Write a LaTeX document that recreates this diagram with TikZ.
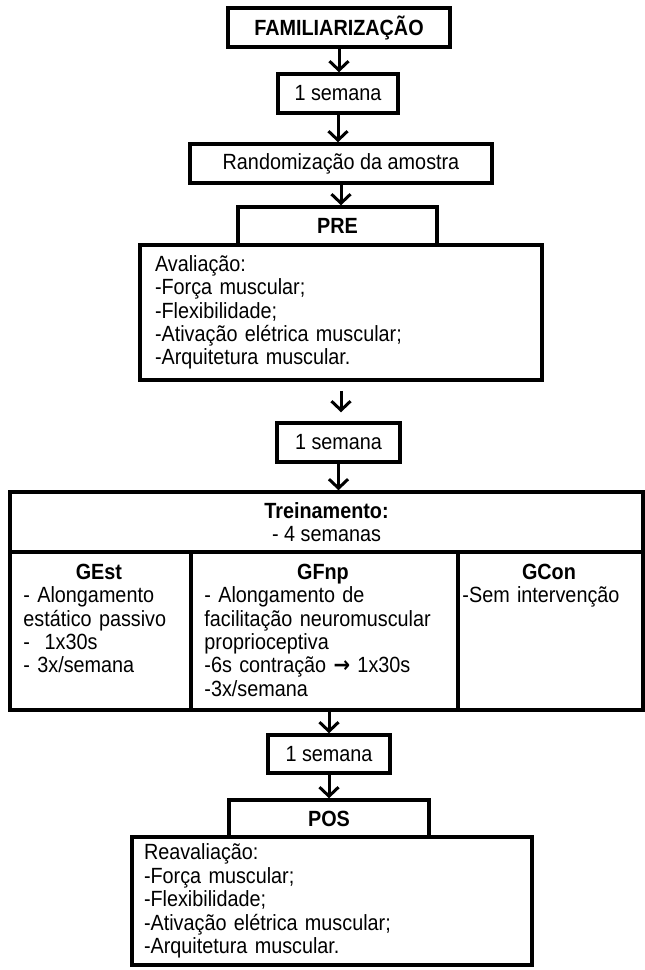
\documentclass[tikz,border=0pt]{standalone}
\usepackage{fontspec}
\setmainfont{Liberation Sans}[FakeStretch=0.9]
\newfontfamily\arrowfont{DejaVu Sans}[FakeStretch=0.9]
\usetikzlibrary{arrows.meta}
\begin{document}
\begin{tikzpicture}[x=1pt,y=-1pt,
  every node/.style={font=\fontsize{22}{23.4}\selectfont},
  bold/.style={font=\fontsize{22}{23.4}\selectfont\bfseries},
  box/.style={draw, line width=3.5pt, inner sep=0pt},
  txt/.style={inner sep=0pt, align=left, anchor=north west},
  flow/.style={line width=3pt, -{Straight Barb[length=9pt,width=19pt]}}]
\useasboundingbox (0,0) rectangle (645,970);
\node[box, bold, minimum width=222pt, minimum height=39pt] (fam) at (339,27.5) {FAMILIARIZAÇÃO};
\node[box, minimum width=120pt, minimum height=39pt] (sem1) at (338,93.5) {1 semana};
\node[box, minimum width=302pt, minimum height=39pt] (rand) at (341,163.5) {Randomização da amostra};
\node[box, bold, minimum width=199pt, minimum height=38pt] (pre) at (337.5,226) {PRE};
\node[box, minimum width=402pt, minimum height=135pt, text width=372pt, align=left] (aval) at (341,312.5)
  {Avaliação:\\-Força muscular;\\-Flexibilidade;\\-Ativação elétrica muscular;\\-Arquitetura muscular.};
\node[box, minimum width=123pt, minimum height=39pt] (sem2) at (338.5,442.5) {1 semana};
\node[box, minimum width=633pt, minimum height=60pt, align=center] (trein) at (326.5,522) {\textbf{Treinamento:}\\- 4 semanas};
\node[box, minimum width=181pt, minimum height=158pt] (gest) at (100.5,631) {};
\node[box, minimum width=267pt, minimum height=158pt] (gfnp) at (324.5,631) {};
\node[box, minimum width=185pt, minimum height=158pt] (gcon) at (550.5,631) {};
\node[txt, text width=151pt] (gestT) at ([xshift=15pt,yshift=-13.5pt]gest.north west)
  {\makebox[\linewidth]{\bfseries GEst}\\- Alongamento\\estático passivo\\-\ \ 1x30s\\- 3x/semana};
\node[txt, text width=237pt] (gfnpT) at ([xshift=15pt,yshift=-13.5pt]gfnp.north west)
  {\makebox[\linewidth]{\bfseries GFnp}\\- Alongamento de\\facilitação neuromuscular\\proprioceptiva\\-6s contração {\arrowfont\bfseries →} 1x30s\\-3x/semana};
\node[txt, text width=173pt] (gconT) at ([xshift=6pt,yshift=-13.5pt]gcon.north west)
  {\makebox[\linewidth]{\bfseries GCon}\\-Sem intervenção};
\node[box, minimum width=122pt, minimum height=38pt] (sem3) at (329,754) {1 semana};
\node[box, bold, minimum width=200pt, minimum height=37pt] (pos) at (329,818.5) {POS};
\node[box, minimum width=400pt, minimum height=128pt, text width=376pt, align=left] (reaval) at (332,901)
  {Reavaliação:\\-Força muscular;\\-Flexibilidade;\\-Ativação elétrica muscular;\\-Arquitetura muscular.};
\draw[flow] (fam.south) -- (fam.south |- sem1.north);
\draw[flow] (sem1.south) -- (sem1.south |- rand.north);
\draw[flow] (rand.south) -- (rand.south |- pre.north);
\draw[flow, shorten <=9pt, shorten >=9pt] (aval.south) -- (aval.south |- sem2.north);
\draw[flow] (sem2.south) -- (sem2.south |- trein.north);
\draw[flow] (sem3.north |- gfnp.south) -- (sem3.north);
\draw[flow] (sem3.south) -- (sem3.south |- pos.north);
\end{tikzpicture}
\end{document}
